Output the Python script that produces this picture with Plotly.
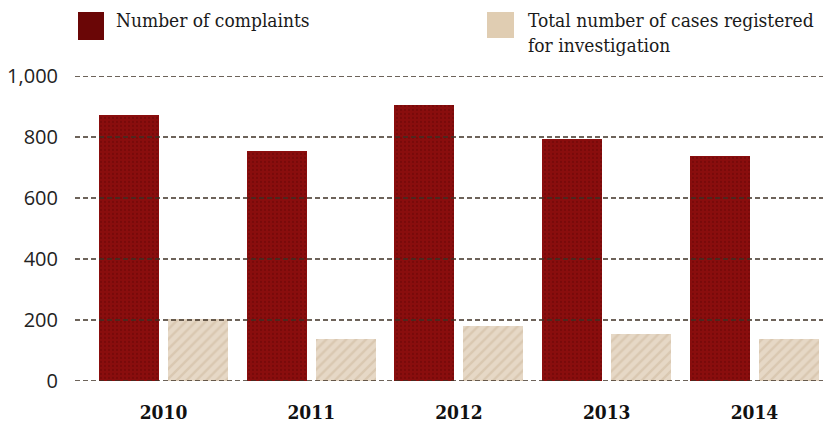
import plotly.graph_objects as go

years = ["2010", "2011", "2012", "2013", "2014"]
complaints = [872, 754, 905, 793, 738]
cases_registered = [203, 138, 180, 154, 138]
y_ticks = [0, 200, 400, 600, 800, 1000]
y_tick_labels = ["0", "200", "400", "600", "800", "1,000"]

W, H = 823, 424
L, R, T, B = 75, 0, 76, 43
pw, ph = W - L - R, H - T - B


def px(X):
    return (X - L) / pw


def py(Y):
    return (H - B - Y) / ph


xpos = list(range(len(years)))
bar_w = 0.406

fig = go.Figure()
fig.add_trace(go.Bar(
    x=xpos, y=complaints, width=bar_w, offset=-0.4365,
    marker=dict(color="#880c0c", line=dict(width=0),
                pattern=dict(shape=".", fgcolor="#660606", bgcolor="#8a0d0d",
                             size=4, solidity=0.25)),
    name="Number of complaints", showlegend=False,
))
fig.add_trace(go.Bar(
    x=xpos, y=cases_registered, width=bar_w, offset=0.0305,
    marker=dict(color="#e3d4c0", line=dict(width=0),
                pattern=dict(shape="/", fgcolor="#cdb89c", bgcolor="#e6d8c6",
                             size=7, solidity=0.35)),
    name="Total number of cases registered for investigation", showlegend=False,
))

shapes = []
for v in y_ticks:
    shapes.append(dict(type="line", xref="paper", yref="y", x0=0, x1=1, y0=v, y1=v,
                       line=dict(color="#3e3024", width=1.6, dash="5px,3px"),
                       layer="above"))
# legend swatches
shapes.append(dict(type="rect", xref="paper", yref="paper",
                   x0=px(78), x1=px(104), y0=py(40), y1=py(12),
                   fillcolor="#6a0606", line=dict(width=0)))
shapes.append(dict(type="rect", xref="paper", yref="paper",
                   x0=px(487), x1=px(514), y0=py(38), y1=py(12),
                   fillcolor="#e0cdb2", line=dict(width=0)))

legend_font = dict(family="DejaVu Serif Condensed", size=19, color="#1a1a1a")
annotations = [
    dict(xref="paper", yref="paper", x=px(114), y=py(20), text="Number of complaints",
         showarrow=False, xanchor="left", yanchor="middle", font=legend_font),
    dict(xref="paper", yref="paper", x=px(526), y=py(33),
         text="Total number of cases registered<br>for investigation",
         showarrow=False, xanchor="left", yanchor="middle", align="left",
         font=legend_font),
]

fig.update_layout(
    width=W, height=H,
    margin=dict(l=L, r=R, t=T, b=B, pad=0),
    paper_bgcolor="white", plot_bgcolor="white",
    shapes=shapes, annotations=annotations,
    bargap=0, bargroupgap=0,
    xaxis=dict(range=[-0.599, 4.464], tickvals=xpos,
               ticktext=["<b>%s</b>" % y for y in years],
               showgrid=False, zeroline=False, showline=False,
               ticks="outside", ticklen=14, tickcolor="rgba(0,0,0,0)",
               tickfont=dict(family="DejaVu Serif Condensed", size=19, color="#111"),
               fixedrange=True),
    yaxis=dict(range=[0, 1000], tickvals=y_ticks, ticktext=y_tick_labels,
               showgrid=False, zeroline=False, showline=False,
               ticks="outside", ticklen=12, tickcolor="rgba(0,0,0,0)",
               tickfont=dict(family="Open Sans", size=20, color="#222"),
               fixedrange=True),
)

fig.write_html("out.html", config={"displayModeBar": False})
